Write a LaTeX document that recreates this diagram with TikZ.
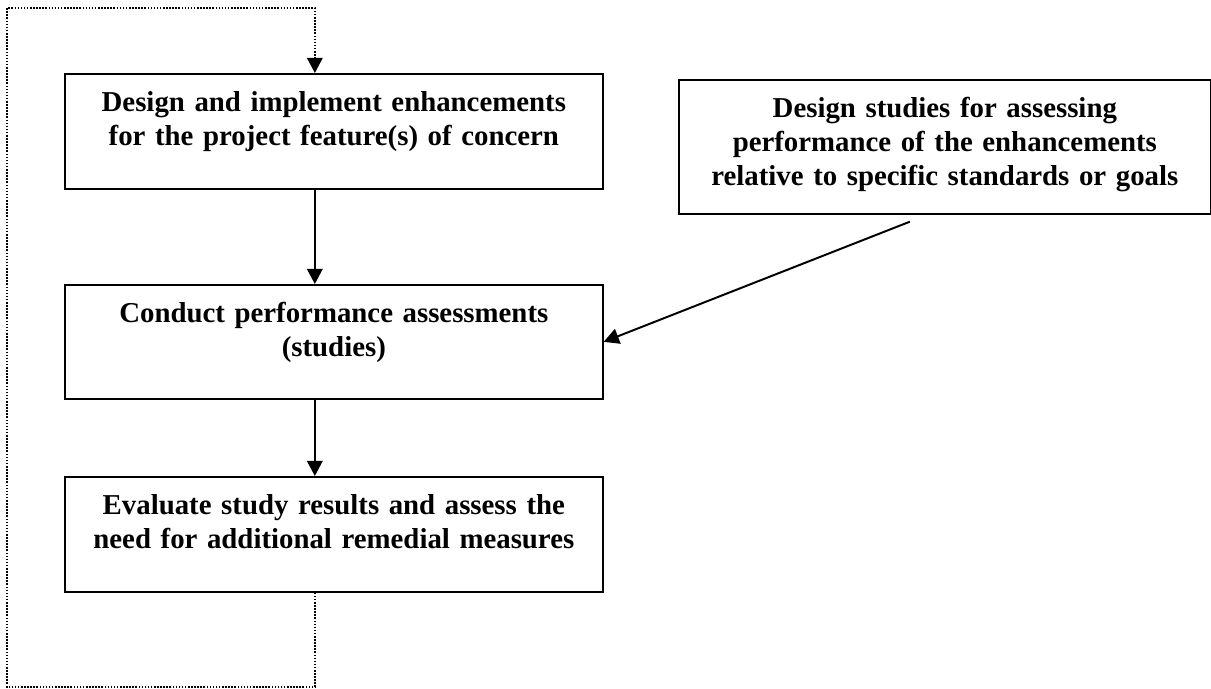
\documentclass[tikz,border=0pt]{standalone}
\usepackage{fontspec}
\setmainfont{Liberation Serif}
\usetikzlibrary{arrows.meta,positioning}

\begin{document}
\begin{tikzpicture}[
box/.style={draw,line width=1.2pt,anchor=north west,inner sep=0pt,text width=13.45cm,align=center,text height=0.95cm,text depth=1.925cm,font=\bfseries\fontsize{20.5pt}{24.2pt}\selectfont},
arr/.style={-{Triangle[length=3.8mm,width=3.9mm]},line width=1.4pt},
loop/.style={-{Triangle[length=3.8mm,width=3.9mm]},line width=1.1pt,dash pattern=on 1.1pt off 1.1pt}
]
\useasboundingbox (0,0) rectangle (30.275,-17.2);
\node[box] (impl) at (1.6,-1.825) {Design and implement enhancements\\for the project feature(s) of concern};
\node[box,text depth=1.9cm] (conduct) at (1.6,-7.1) {Conduct performance assessments\\(studies)};
\node[box] (eval) at (1.6,-11.9) {Evaluate study results and assess the\\need for additional remedial measures};
\node[box,text width=13.3cm,text height=0.94cm,text depth=2.41cm] (design) at (16.95,-1.975) {Design studies for assessing\\performance of the enhancements\\relative to specific standards or goals};
\coordinate (lowleft) at (0.175,-17.175);
\coordinate (upleft) at (0.175,-0.2);
\draw[arr] ([xshift=-4.75mm]impl.south) -- ([xshift=-4.75mm]conduct.north);
\draw[arr] ([xshift=-4.75mm]conduct.south) -- ([xshift=-4.75mm]eval.north);
\draw[arr] ([xshift=-8.75mm,yshift=-1.75mm]design.south) -- (conduct.east);
% feedback loop
\draw[loop] ([xshift=-4.75mm]eval.south) |- (lowleft) -- (upleft) -| ([xshift=-4.75mm]impl.north);
\end{tikzpicture}
\end{document}
